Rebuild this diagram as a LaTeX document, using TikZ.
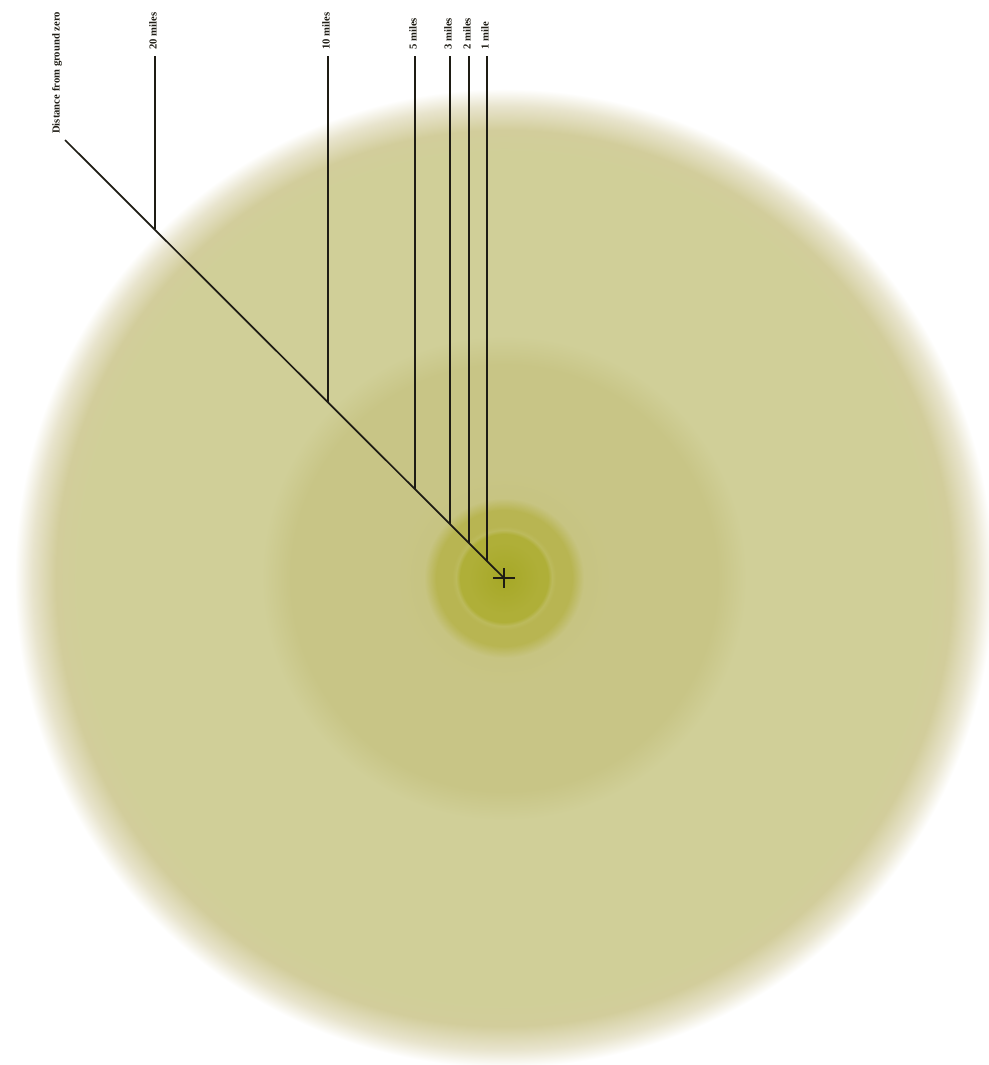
\documentclass[tikz,border=0pt]{standalone}
\usepackage{fontspec}
\setmainfont{Liberation Serif}
\definecolor{ink}{RGB}{30,28,20}
\definecolor{core}{RGB}{166,168,38}
\definecolor{coreedge}{RGB}{175,175,56}
\definecolor{ringlight}{RGB}{188,186,92}
\definecolor{ring}{RGB}{184,181,82}
\definecolor{inner}{RGB}{199,196,130}
\definecolor{middle}{RGB}{200,197,134}
\definecolor{outer}{RGB}{208,207,152}
\definecolor{rim}{RGB}{210,205,155}
\definecolor{rimfade}{RGB}{232,228,205}

% blast zones, stops in pt (1px = 0.75pt)
\pgfdeclareradialshading{blastzones}{\pgfpoint{0pt}{0pt}}{%
  color(0pt)=(core);
  color(27pt)=(coreedge);
  color(33pt)=(coreedge);
  color(36pt)=(ringlight);
  color(39pt)=(ring);
  color(51pt)=(ring);
  color(60pt)=(inner);
  color(81pt)=(middle);
  color(160pt)=(middle);
  color(182pt)=(outer);
  color(318pt)=(outer);
  color(336pt)=(rim);
  color(354pt)=(rimfade);
  color(367pt)=(white)}

\tikzset{
  milelabel/.style={rotate=90, anchor=west, inner sep=0pt, text=ink,
    font=\bfseries\fontsize{8}{9}\selectfont},
  miletick/.style={draw=ink, line width=1pt, shorten <=4.5pt},
}

\begin{document}
\begin{tikzpicture}[x=0.75pt,y=0.75pt,yscale=-1,xscale=1]
\useasboundingbox (0,0) rectangle (989,1065);

%Shape: Blast zones
\node [inner sep=0pt] (zones) at (504,578) {\pgfuseshading{blastzones}};
\coordinate (gz) at (504,578);

% Text Node
\node [milelabel] (lbldist) at (57,134) {Distance from ground zero};
% Text Node
\node [milelabel] (lbl20) at (153,50) {20 miles};
% Text Node
\node [milelabel] (lbl10) at (326,50) {10 miles};
% Text Node
\node [milelabel] (lbl5) at (413,50) {5 miles};
% Text Node
\node [milelabel] (lbl3) at (448,50) {3 miles};
% Text Node
\node [milelabel] (lbl2) at (467,50) {2 miles};
% Text Node
\node [milelabel] (lbl1) at (485,50) {1 mile};

%Straight Lines: points on the diagonal
\coordinate (start) at (65,140);
\coordinate (on20) at (155,229);
\coordinate (on10) at (328,402);
\coordinate (on5) at (415,489);
\coordinate (on3) at (450,524);
\coordinate (on2) at (469,543);
\coordinate (on1) at (487,561);

%Straight Lines
\draw [draw=ink, line width=1.3pt] (start) -- (gz);
\draw [miletick] (lbl20.west -| on20) -- (on20);
\draw [miletick] (lbl10.west -| on10) -- (on10);
\draw [miletick] (lbl5.west -| on5) -- (on5);
\draw [miletick] (lbl3.west -| on3) -- (on3);
\draw [miletick] (lbl2.west -| on2) -- (on2);
\draw [miletick] (lbl1.west -| on1) -- (on1);

%Shape: Cross
\draw [draw=ink, line width=1pt] (gz) ++(-11,0) -- ++(22,0) (gz) ++(0,-10) -- ++(0,20);

\end{tikzpicture}
\end{document}
